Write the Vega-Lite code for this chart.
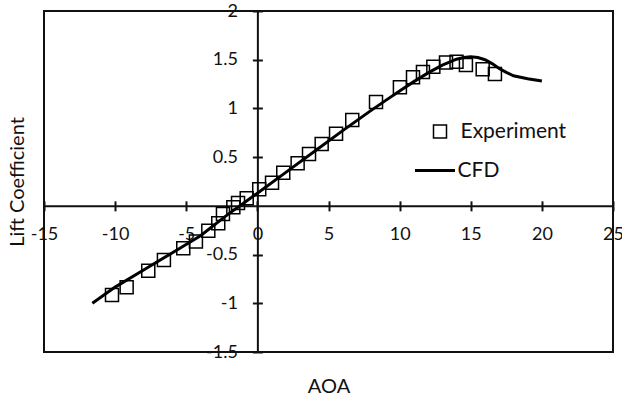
{
  "$schema": "https://vega.github.io/schema/vega-lite/v6.json",
  "width": 569,
  "height": 341,
  "autosize": "none",
  "padding": {"left": 44, "top": 11, "right": 9, "bottom": 49},
  "background": "white",
  "config": {
    "view": {"stroke": "#111", "strokeWidth": 2},
    "font": "Lato",
    "axis": {"grid": false, "labelFont": "Lato", "titleFont": "Lato", "labelColor": "#111", "titleColor": "#111", "domainColor": "#111", "tickColor": "#111"},
    "legend": {"labelFont": "Lato", "labelColor": "#111"}
  },
  "datasets": {
    "exp": [
      {"aoa": -10.22, "cl": -0.915},
      {"aoa": -9.19, "cl": -0.835},
      {"aoa": -7.67, "cl": -0.665},
      {"aoa": -6.57, "cl": -0.555},
      {"aoa": -5.21, "cl": -0.435},
      {"aoa": -4.32, "cl": -0.367},
      {"aoa": -3.45, "cl": -0.255},
      {"aoa": -2.75, "cl": -0.179},
      {"aoa": -2.42, "cl": -0.083},
      {"aoa": -1.69, "cl": -0.014},
      {"aoa": -1.36, "cl": 0.03},
      {"aoa": -0.75, "cl": 0.078},
      {"aoa": 0.13, "cl": 0.17},
      {"aoa": 1.03, "cl": 0.238},
      {"aoa": 1.82, "cl": 0.341},
      {"aoa": 2.83, "cl": 0.437},
      {"aoa": 3.63, "cl": 0.533},
      {"aoa": 4.52, "cl": 0.635},
      {"aoa": 5.53, "cl": 0.741},
      {"aoa": 6.67, "cl": 0.882},
      {"aoa": 8.34, "cl": 1.066},
      {"aoa": 10.02, "cl": 1.217},
      {"aoa": 10.94, "cl": 1.32},
      {"aoa": 11.64, "cl": 1.374},
      {"aoa": 12.37, "cl": 1.429},
      {"aoa": 13.26, "cl": 1.472},
      {"aoa": 14.0, "cl": 1.48},
      {"aoa": 14.66, "cl": 1.446},
      {"aoa": 15.84, "cl": 1.402},
      {"aoa": 16.7, "cl": 1.354}
    ],
    "cfd": [
      {"aoa": -11.6, "cl": -1.0},
      {"aoa": -10, "cl": -0.834},
      {"aoa": -8, "cl": -0.658},
      {"aoa": -6, "cl": -0.483},
      {"aoa": -4, "cl": -0.307},
      {"aoa": -2, "cl": -0.08},
      {"aoa": -1, "cl": 0.025},
      {"aoa": 0, "cl": 0.13},
      {"aoa": 2, "cl": 0.344},
      {"aoa": 4, "cl": 0.558},
      {"aoa": 6, "cl": 0.772},
      {"aoa": 8, "cl": 0.98},
      {"aoa": 9, "cl": 1.08},
      {"aoa": 10, "cl": 1.18},
      {"aoa": 11, "cl": 1.275},
      {"aoa": 12, "cl": 1.365},
      {"aoa": 13, "cl": 1.445},
      {"aoa": 14, "cl": 1.505},
      {"aoa": 14.5, "cl": 1.522},
      {"aoa": 15, "cl": 1.53},
      {"aoa": 15.5, "cl": 1.522},
      {"aoa": 16, "cl": 1.5},
      {"aoa": 16.5, "cl": 1.46},
      {"aoa": 17, "cl": 1.41},
      {"aoa": 17.5, "cl": 1.37},
      {"aoa": 18, "cl": 1.335},
      {"aoa": 19, "cl": 1.305},
      {"aoa": 20, "cl": 1.282}
    ]
  },
  "layer": [
    {
      "data": {"name": "cfd"},
      "mark": {"type": "line", "strokeWidth": 3},
      "encoding": {
        "x": {
          "field": "aoa", "type": "quantitative",
          "scale": {"domain": [-15, 25], "nice": false, "zero": false},
          "axis": {
            "orient": "bottom", "offset": -146.14,
            "values": [-15, -10, -5, 0, 5, 10, 15, 20, 25],
            "labelExpr": "'' + datum.value",
            "tickSize": 5, "tickWidth": 2, "domainWidth": 2,
            "labelFontSize": 18, "labelPadding": 15, "labelFlush": false, "labelOverlap": false, "labelBound": false,
            "title": "AOA", "titleFontSize": 20, "titleFontWeight": "normal",
            "titleX": 284.5, "titleY": 181, "titleBaseline": "middle", "titleAlign": "center"
          }
        },
        "y": {
          "field": "cl", "type": "quantitative",
          "scale": {"domain": [-1.5, 2], "nice": false, "zero": false},
          "axis": {
            "orient": "left", "offset": -213.375,
            "values": [-1.5, -1, -0.5, 0.5, 1, 1.5, 2],
            "labelExpr": "'' + datum.value",
            "tickSize": 5, "tickWidth": 2, "domainWidth": 2,
            "labelFontSize": 18, "labelPadding": 15, "labelFlush": false, "labelOverlap": false,
            "title": "Lift Coefficient", "titleFontSize": 20, "titleFontWeight": "normal",
            "titleX": -239.4, "titleY": 170.5, "titleAngle": -90, "titleBaseline": "middle", "titleAlign": "center"
          }
        },
        "color": {
          "datum": "CFD",
          "scale": {"range": ["black"]},
          "legend": {
            "orient": "none", "legendX": 369.5, "legendY": 138, "title": null,
            "symbolType": "stroke", "symbolSize": 1600, "symbolStrokeWidth": 3,
            "labelFontSize": 21, "labelOffset": 1, "padding": 0
          }
        }
      }
    },
    {
      "data": {"name": "exp"},
      "mark": {"type": "point", "shape": "square", "filled": false, "size": 169, "stroke": "black", "strokeWidth": 1.5, "opacity": 1},
      "encoding": {
        "x": {
          "field": "aoa", "type": "quantitative",
          "axis": {"orient": "bottom", "offset": -146.14, "values": [-15, -10, -5, 0, 5, 10, 15, 20, 25], "tickSize": -5, "tickWidth": 2, "labels": false, "domain": false, "title": null}
        },
        "y": {
          "field": "cl", "type": "quantitative",
          "axis": {"orient": "left", "offset": -213.375, "values": [-1.5, -1, -0.5, 0.5, 1, 1.5, 2], "tickSize": -5, "tickWidth": 2, "labels": false, "domain": false, "title": null}
        },
        "shape": {
          "datum": "Experiment",
          "scale": {"range": ["square"]},
          "legend": {
            "orient": "none", "legendX": 385.5, "legendY": 110, "title": null,
            "symbolSize": 169, "symbolFillColor": "transparent", "symbolStrokeColor": "black", "symbolStrokeWidth": 1.5,
            "labelFontSize": 21, "labelOffset": 10, "padding": 0
          }
        }
      }
    }
  ],
  "resolve": {"axis": {"x": "independent", "y": "independent"}}
}
